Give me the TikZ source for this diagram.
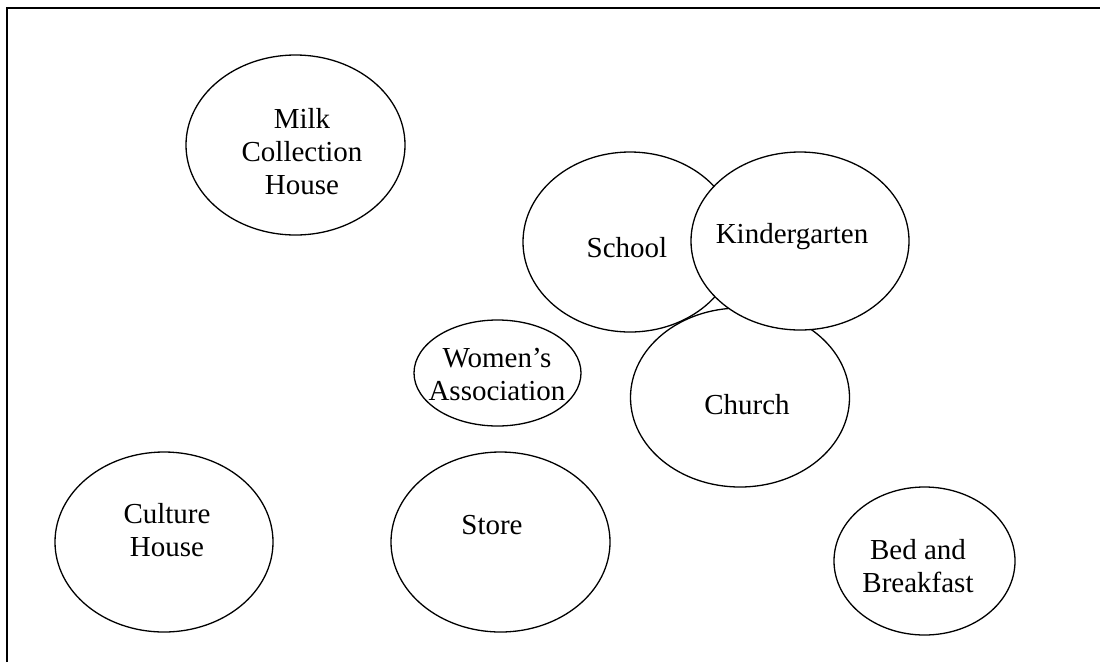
\documentclass[tikz,border=0pt]{standalone}
\usepackage{fontspec}
\setmainfont{Liberation Serif}
\usetikzlibrary{shapes.geometric}
\begin{document}
\begin{tikzpicture}[x=1pt,y=-1pt,
  place/.style={draw, fill=white, line width=1.3pt, ellipse, inner sep=0pt, outer sep=0pt},
  lbl/.style={align=center, inner sep=0pt, font=\fontsize{29}{33}\selectfont}]
\useasboundingbox (0,0) rectangle (1100,662);
\draw[line width=2pt] (7,662) -- (7,8) -- (1100,8);
% ellipses
\node[place, minimum width=219pt, minimum height=180pt] (milk) at (295.5,145) {};
\node[place, minimum width=219pt, minimum height=179pt] (church) at (740,397.5) {};
\node[place, minimum width=214pt, minimum height=180pt] (school) at (630,242) {};
\node[place, minimum width=218pt, minimum height=178pt] (kinder) at (800,241) {};
\node[place, minimum width=167pt, minimum height=106pt] (women) at (497.5,373) {};
\node[place, minimum width=218pt, minimum height=180pt] (culture) at (164,542) {};
\node[place, minimum width=219pt, minimum height=180pt] (store) at (500.5,542) {};
\node[place, minimum width=181pt, minimum height=148pt] (bnb) at (924.5,561) {};
% labels
\node[lbl] (milkT) at (302,152) {Milk\\Collection\\House};
\node[lbl] (schoolT) at (627,248) {School};
\node[lbl] (kinderT) at (792,237) {Kindergarten};
\node[lbl] (churchT) at (747,405) {Church};
\node[lbl] (womenT) at (497,374) {Women’s\\Association};
\node[lbl] (cultureT) at (167,530) {Culture\\House};
\node[lbl] (storeT) at (492,525) {Store};
\node[lbl] (bnbT) at (918,566) {Bed and\\Breakfast};
\end{tikzpicture}
\end{document}
